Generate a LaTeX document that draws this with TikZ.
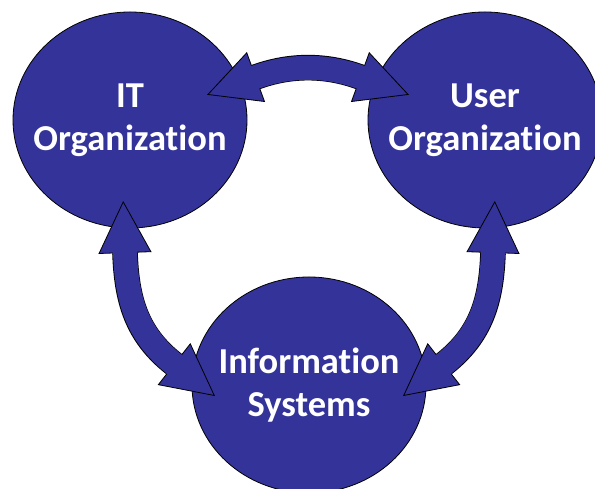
\documentclass[tikz,border=0pt]{standalone}
\usepackage{fontspec}
\setmainfont{Carlito}[Ligatures={NoCommon,NoRare}]
\usepackage{tikz}
\usetikzlibrary{arrows.meta,shapes.geometric}
\definecolor{orgblue}{RGB}{51,51,153}
\tikzset{>={Triangle[length=52pt,width=53pt,line width=0.8pt,fill=orgblue]}}
\tikzset{
    org/.style={ellipse,draw=black,line width=0.8pt,fill=orgblue,minimum width=234pt,minimum height=216pt,inner sep=0pt},
    orgtext/.style={text=white,font=\fontsize{36.5}{43}\selectfont\bfseries,align=center},
    link/.style={<->,draw=black,line width=25.6pt,shorten <=-52pt,shorten >=-52pt,
        postaction={draw=orgblue,line width=24pt,arrows=-,shorten <=-2pt,shorten >=-2pt}},
}

\begin{document}
\begin{tikzpicture}[x=1pt,y=1pt]
            \useasboundingbox (0,0) rectangle (595,489);
            \node[org,label={[orgtext]center:{IT\\Organization}}] (it) at (130,369) {};
            \node[org,label={[orgtext]center:{User\\Organization}}] (user) at (485,369) {};
            \node[org,label={[orgtext]center:{Information\\Systems}}] (info) at (309,104) {};
            % base points of the arrow heads
            \coordinate (itR) at (256,412);
            \coordinate (userL) at (360,412);
            \coordinate (itB) at (125,236);
            \coordinate (userB) at (493,236);
            \coordinate (infoL) at (174,125);
            \coordinate (infoR) at (444,125);
            \draw[link] (itR) to[out=20,in=160,looseness=0.9] (userL);
            \draw[link] (itB) to[out=-88,in=142] (infoL);
            \draw[link] (userB) to[out=-92,in=38] (infoR);
        \end{tikzpicture}
\end{document}
